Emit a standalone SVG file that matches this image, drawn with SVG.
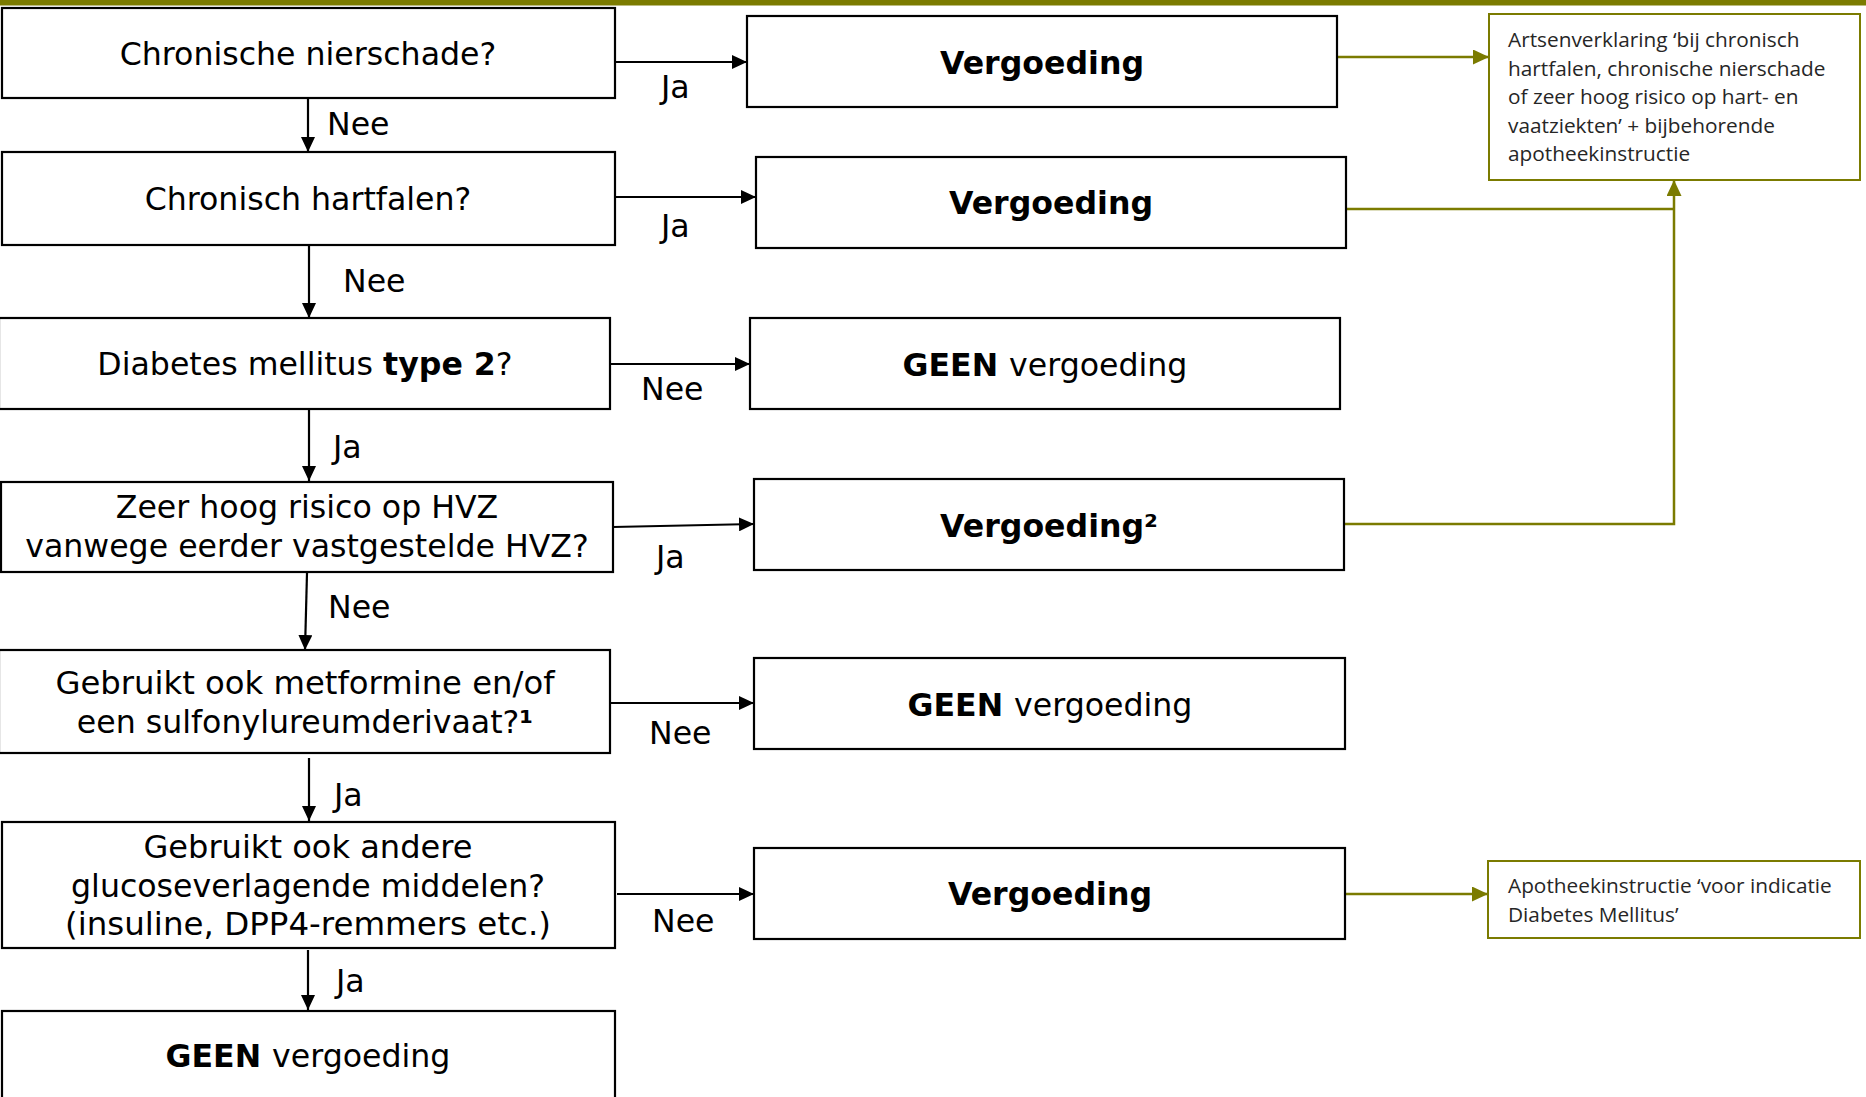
<svg xmlns="http://www.w3.org/2000/svg" width="1866" height="1097" viewBox="0 0 1866 1097">
<style>
.box{fill:#fff;stroke:#000;stroke-width:2.2}
.note{fill:#fff;stroke:#7b7b00;stroke-width:2}
.t{font-family:"DejaVu Sans","Verdana",sans-serif;font-size:31.6px;fill:#000;text-anchor:middle}
.b{font-weight:bold}
.lbl{font-family:"DejaVu Sans","Verdana",sans-serif;font-size:31.6px;fill:#000}
.n{font-family:"Open Sans","Noto Sans",sans-serif;font-size:20.8px;fill:#262626}
.k{fill:none;stroke:#000;stroke-width:2.2}
.o{fill:none;stroke:#7b7b00;stroke-width:2.5}
</style>
<defs>
<marker id="ak" markerUnits="userSpaceOnUse" markerWidth="15" markerHeight="14" refX="15" refY="7" orient="auto"><path d="M0,0 L15,7 L0,14 z" fill="#000"/></marker>
<marker id="ao" markerUnits="userSpaceOnUse" markerWidth="16" markerHeight="15" refX="16" refY="7.5" orient="auto"><path d="M0,0 L16,7.5 L0,15 z" fill="#7b7b00"/></marker>
</defs>
<rect x="0" y="0" width="1866" height="5.5" fill="#7b7b00"/>

<g id="connectors">
<path class="k" d="M610,62 H747" marker-end="url(#ak)"/>
<path class="k" d="M615,197 H756" marker-end="url(#ak)"/>
<path class="k" d="M610,364 H750" marker-end="url(#ak)"/>
<path class="k" d="M613,527 L754,524" marker-end="url(#ak)"/>
<path class="k" d="M610,703 H754" marker-end="url(#ak)"/>
<path class="k" d="M617,894 H754" marker-end="url(#ak)"/>
<path class="k" d="M308,99 V152" marker-end="url(#ak)"/>
<path class="k" d="M309,238 V318" marker-end="url(#ak)"/>
<path class="k" d="M309,400 V481" marker-end="url(#ak)"/>
<path class="k" d="M307,573 L305,650" marker-end="url(#ak)"/>
<path class="k" d="M309,758 V821" marker-end="url(#ak)"/>
<path class="k" d="M308,950 V1010" marker-end="url(#ak)"/>
<path class="o" d="M1337,57 H1489" marker-end="url(#ao)"/>
<path class="o" d="M1346,209 H1674"/>
<path class="o" d="M1344,524 H1674 V180" marker-end="url(#ao)"/>
<path class="o" d="M1345,894 H1488" marker-end="url(#ao)"/>
<text class="lbl" x="661" y="98">Ja</text>
<text class="lbl" x="327" y="135">Nee</text>
<text class="lbl" x="661" y="237">Ja</text>
<text class="lbl" x="343" y="292">Nee</text>
<text class="lbl" x="641" y="400">Nee</text>
<text class="lbl" x="333" y="458">Ja</text>
<text class="lbl" x="656" y="568">Ja</text>
<text class="lbl" x="328" y="618">Nee</text>
<text class="lbl" x="649" y="744">Nee</text>
<text class="lbl" x="334" y="806">Ja</text>
<text class="lbl" x="652" y="932">Nee</text>
<text class="lbl" x="336" y="992">Ja</text>
</g>

<g id="q1"><rect class="box" x="2" y="8" width="613" height="90"/><text class="t" x="308" y="65">Chronische nierschade?</text></g>
<g id="q2"><rect class="box" x="2" y="152" width="613" height="93"/><text class="t" x="308" y="210">Chronisch hartfalen?</text></g>
<g id="q3"><rect class="box" x="-1" y="318" width="611" height="91"/><text class="t" x="305" y="375">Diabetes mellitus <tspan class="b">type 2</tspan>?</text></g>
<g id="q4"><rect class="box" x="1" y="482" width="612" height="90"/><text class="t" x="307" y="518">Zeer hoog risico op HVZ</text><text class="t" x="307" y="557">vanwege eerder vastgestelde HVZ?</text></g>
<g id="q5"><rect class="box" x="-1" y="650" width="611" height="103"/><text class="t" x="305" y="694" textLength="499" lengthAdjust="spacingAndGlyphs">Gebruikt ook metformine en/of</text><text class="t" x="305" y="733">een sulfonylureumderivaat?<tspan class="b">¹</tspan></text></g>
<g id="q6"><rect class="box" x="2" y="822" width="613" height="126"/><text class="t" x="308" y="858" textLength="329" lengthAdjust="spacingAndGlyphs">Gebruikt ook andere</text><text class="t" x="308" y="897">glucoseverlagende middelen?</text><text class="t" x="308" y="935" textLength="486" lengthAdjust="spacingAndGlyphs">(insuline, DPP4-remmers etc.)</text></g>
<g id="e7"><rect class="box" x="2" y="1011" width="613" height="100"/><text class="t" x="308" y="1067"><tspan class="b">GEEN </tspan>vergoeding</text></g>

<g id="r1"><rect class="box" x="747" y="16" width="590" height="91"/><text class="t b" x="1042" y="74">Vergoeding</text></g>
<g id="r2"><rect class="box" x="756" y="157" width="590" height="91"/><text class="t b" x="1051" y="214">Vergoeding</text></g>
<g id="r3"><rect class="box" x="750" y="318" width="590" height="91"/><text class="t" x="1045" y="376"><tspan class="b">GEEN </tspan>vergoeding</text></g>
<g id="r4"><rect class="box" x="754" y="479" width="590" height="91"/><text class="t b" x="1049" y="537">Vergoeding²</text></g>
<g id="r5"><rect class="box" x="754" y="658" width="591" height="91"/><text class="t" x="1050" y="716"><tspan class="b">GEEN </tspan>vergoeding</text></g>
<g id="r6"><rect class="box" x="754" y="848" width="591" height="91"/><text class="t b" x="1050" y="905">Vergoeding</text></g>

<g id="n1"><rect class="note" x="1489" y="14" width="371" height="166"/>
<text class="n" x="1508" y="47">Artsenverklaring ‘bij chronisch</text>
<text class="n" x="1508" y="75.5">hartfalen, chronische nierschade</text>
<text class="n" x="1508" y="104">of zeer hoog risico op hart- en</text>
<text class="n" x="1508" y="132.5">vaatziekten’ + bijbehorende</text>
<text class="n" x="1508" y="161">apotheekinstructie</text></g>
<g id="n2"><rect class="note" x="1488" y="861" width="372" height="77"/>
<text class="n" x="1508" y="893">Apotheekinstructie ‘voor indicatie</text>
<text class="n" x="1508" y="921.5">Diabetes Mellitus’</text></g>
</svg>
